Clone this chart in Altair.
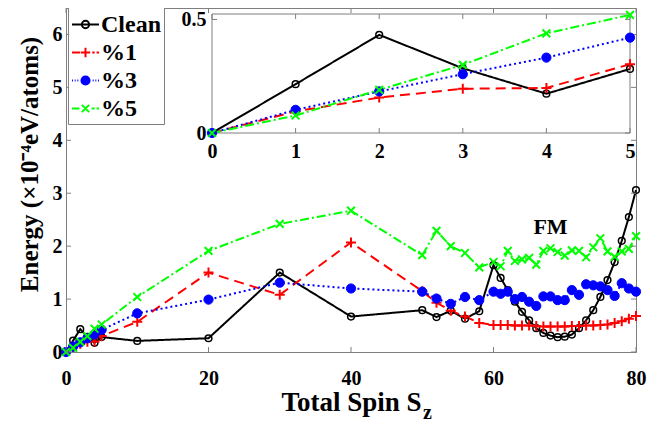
import altair as alt
import pandas as pd

SERIES = ["Clean", "%1", "%3", "%5"]
COLORS = ["#000000", "#ff0000", "#0000ff", "#00ff00"]

SZ = [0, 1, 2, 3, 4, 5, 10, 20, 30, 40, 50, 52, 54, 56, 58,
      60, 61, 62, 63, 64, 65, 66, 67, 68, 69, 70,
      71, 72, 73, 74, 75, 76, 77, 78, 79, 80]
CLEAN = [0, 0.215, 0.432, 0.285, 0.173, 0.282, 0.21, 0.26, 1.50, 0.67, 0.79, 0.66, 0.78, 0.63, 0.77,
         1.64, 1.40, 1.17, 0.95, 0.76, 0.60, 0.45, 0.36, 0.31, 0.28, 0.29,
         0.33, 0.45, 0.60, 0.79, 1.04, 1.36, 1.70, 2.10, 2.55, 3.06]
P1 = [0, 0.095, 0.156, 0.195, 0.198, 0.303, 0.57, 1.50, 1.08, 2.07, 1.15, 0.93, 0.78, 0.67, 0.55,
      0.51, 0.51, 0.51, 0.50, 0.50, 0.50, 0.49, 0.48, 0.48, 0.48, 0.48,
      0.49, 0.49, 0.50, 0.50, 0.51, 0.52, 0.55, 0.58, 0.63, 0.68]
P3 = [0, 0.102, 0.183, 0.259, 0.332, 0.42, 0.73, 0.99, 1.31, 1.20, 1.14, 1.01, 0.91, 1.04, 0.98,
      1.14, 1.10, 1.14, 1.00, 1.04, 0.95, 0.87, 1.05, 1.05, 0.98, 0.98,
      1.17, 1.08, 1.28, 1.26, 1.24, 1.17, 1.06, 1.30, 1.20, 1.14]
P5 = [0, 0.077, 0.19, 0.30, 0.439, 0.52, 1.04, 1.91, 2.42, 2.67, 1.83, 2.29, 2.00, 1.87, 1.60,
      1.70, 1.62, 1.91, 1.72, 1.75, 1.78, 1.65, 1.91, 1.96, 1.89, 1.82,
      1.92, 1.91, 1.79, 1.98, 2.15, 1.90, 1.80, 1.90, 1.95, 2.19]
VALUES = [CLEAN, P1, P3, P5]

X_TICKS = [0, 20, 40, 60, 80]
Y_TICKS = [0, 1, 2, 3, 4, 5, 6]
INSET_X_TICKS = [0, 1, 2, 3, 4, 5]
INSET_Y_TICKS = [0, 0.5]
ANNOT_TEXT = ["FM"]
ANNOT_X = [68]
ANNOT_Y = [2.36]

FONT = "Liberation Serif"
W, H = 570, 344
PAD_L = 58
GRAY = "#7f7f7f"

# inset placement (pixels inside the plot area)
IX0, IX1 = 146, W - 6
IY0, IY1 = 125, 6
INSET_YMAX = 0.524

STYLES = {
    "Clean": dict(dash=[1, 0], shape="circle", size=45, filled=False, sw=1.5),
    "%1": dict(dash=[10, 6], shape="M-1,0H1M0,-1V1", size=100, filled=False, sw=2),
    "%3": dict(dash=[2, 3], shape="circle", size=85, filled=True, sw=1),
    "%5": dict(dash=[9, 3, 2, 3], shape="M-1,-1L1,1M-1,1L1,-1", size=60, filled=False, sw=2),
}


def ring(r):
    return f"M-{r},0A{r},{r} 0 1,0 {r},0A{r},{r} 0 1,0 -{r},0"


LEGEND_SHAPES = [
    "M-1,0H1" + ring(0.27),
    "M-1,0H-0.4M-0.35,0H0.35M0,-0.35V0.35M0.5,0H0.68M0.82,0H1",
    "M-1,0H-0.93M-0.8,0H-0.73M-0.6,0H-0.53M0.53,0H0.6M0.73,0H0.8M0.93,0H1"
    + ring(0.3) + ring(0.2) + ring(0.1) + "M-0.3,0H0.3M0,-0.3V0.3",
    "M-1,0H-0.45M-0.27,-0.27L0.27,0.27M-0.27,0.27L0.27,-0.27M0.45,0H0.68M0.82,0H1",
]

rows = []
for s, vals in zip(SERIES, VALUES):
    for x, y in zip(SZ, vals):
        rows.append({"series": s, "sz": x, "e": y})
df = pd.DataFrame(rows)

LAB = dict(labelFont=FONT, labelFontWeight="bold", labelFontSize=20, labelColor="black",
           labelFlush=False)
TIT = dict(titleFont=FONT, titleFontWeight="bold", titleColor="black")

# ---------- main panel ----------
mx = alt.Scale(domain=[0, 80], nice=False, zero=False)
my = alt.Scale(domain=[0, 6.5], nice=False, zero=False)
ax_x = alt.Axis(values=X_TICKS, title="Total Spin S", tickSize=0, labelPadding=16,
                domain=False, grid=False, titlePadding=1, titleFontSize=27, **LAB, **TIT)
ax_y = alt.Axis(values=Y_TICKS, title="Energy (×10⁻⁴eV/atoms)", tickSize=0, labelPadding=4,
                domain=False, grid=False, titlePadding=10, titleFontSize=25, titleY=156,
                **LAB, **TIT)


def X(field):
    return alt.X(field, type="quantitative", scale=mx, axis=ax_x)


def Y(field):
    return alt.Y(field, type="quantitative", scale=my, axis=ax_y)


main_layers = []
legend_df = pd.DataFrame({"series": SERIES, "sz": [0] * 4, "e": [0] * 4})
leg = alt.Legend(title=None, orient="none", legendX=2, legendY=-1, direction="vertical",
                 symbolSize=729, symbolStrokeWidth=2, labelFont=FONT, labelFontWeight="bold",
                 labelFontSize=24, labelColor="black", padding=3, strokeColor=GRAY,
                 fillColor="white", rowPadding=1, labelOffset=1, labelLimit=200)
main_layers.append(
    alt.Chart(legend_df).mark_point(opacity=0, filled=False).encode(
        x=X("sz"), y=Y("e"),
        color=alt.Color("series:N", scale=alt.Scale(domain=SERIES, range=COLORS), legend=leg),
        shape=alt.Shape("series:N", scale=alt.Scale(domain=SERIES, range=LEGEND_SHAPES), legend=leg),
    )
)

for s, c in zip(SERIES, COLORS):
    st = STYLES[s]
    sub = df[df.series == s]
    main_layers.append(
        alt.Chart(sub).mark_line(color=c, strokeDash=st["dash"], strokeWidth=2).encode(
            x=X("sz"), y=Y("e"))
    )
for s, c in zip(SERIES, COLORS):
    st = STYLES[s]
    sub = df[df.series == s]
    if st["filled"]:
        m = alt.Chart(sub).mark_point(shape=st["shape"], size=st["size"], filled=True,
                                      fill=c, stroke=c, opacity=1, strokeWidth=st["sw"])
    else:
        m = alt.Chart(sub).mark_point(shape=st["shape"], size=st["size"], filled=False,
                                      stroke=c, opacity=1, strokeWidth=st["sw"])
    main_layers.append(m.encode(x=X("sz"), y=Y("e")))

xt = pd.DataFrame({"t": X_TICKS})
yt = pd.DataFrame({"t": Y_TICKS})
main_layers += [
    alt.Chart(xt).mark_rule(color=GRAY).encode(x=X("t"), y=alt.value(H), y2=alt.value(H - 5)),
    alt.Chart(xt).mark_rule(color=GRAY).encode(x=X("t"), y=alt.value(0), y2=alt.value(5)),
    alt.Chart(yt).mark_rule(color=GRAY).encode(y=Y("t"), x=alt.value(0), x2=alt.value(5)),
    alt.Chart(yt).mark_rule(color=GRAY).encode(y=Y("t"), x=alt.value(W - 5), x2=alt.value(W)),
]

annot = pd.DataFrame({"text": ANNOT_TEXT, "sz": ANNOT_X, "e": ANNOT_Y})
main_layers.append(
    alt.Chart(annot).mark_text(font=FONT, fontWeight="bold", fontSize=22, color="black").encode(
        x=X("sz"), y=Y("e"), text="text:N")
)
main_layers.append(
    alt.Chart(pd.DataFrame({"a": [0]})).mark_text(
        text="z", font=FONT, fontWeight="bold", fontSize=20, color="black", align="left",
        baseline="middle"
    ).encode(x=alt.value(357), y=alt.value(405))
)
main = alt.layer(*main_layers)

# ---------- inset ----------
ix = alt.Scale(domain=[0, 5], range=[IX0, IX1], nice=False, zero=False)
iy = alt.Scale(domain=[0, INSET_YMAX], range=[IY0, IY1], nice=False, zero=False)
iax_x = alt.Axis(values=INSET_X_TICKS, orient="bottom", offset=IY0 - H, tickSize=0,
                 labelPadding=8, domain=False, grid=False, title=None, format="d", **LAB)
iax_y = alt.Axis(values=INSET_Y_TICKS, orient="left", offset=-IX0, tickSize=0,
                 labelPadding=6, domain=False, grid=False, title=None, format="~g", **LAB)


def IX(field):
    return alt.X(field, type="quantitative", scale=ix, axis=iax_x)


def IY(field):
    return alt.Y(field, type="quantitative", scale=iy, axis=iax_y)


dfi = df[df.sz <= 5]
inset_layers = [
    alt.Chart(pd.DataFrame({"x0": [0], "x1": [5], "y0": [0], "y1": [INSET_YMAX]})).mark_rect(
        fill="white", stroke=GRAY, strokeWidth=1).encode(
        x=IX("x0"), x2="x1", y=IY("y0"), y2="y1")
]
ixt = pd.DataFrame({"t": INSET_X_TICKS})
iyt = pd.DataFrame({"t": INSET_Y_TICKS})
inset_layers += [
    alt.Chart(ixt).mark_rule(color=GRAY).encode(x=IX("t"), y=alt.value(IY0), y2=alt.value(IY0 - 5)),
    alt.Chart(ixt).mark_rule(color=GRAY).encode(x=IX("t"), y=alt.value(IY1), y2=alt.value(IY1 + 5)),
    alt.Chart(iyt).mark_rule(color=GRAY).encode(y=IY("t"), x=alt.value(IX0), x2=alt.value(IX0 + 5)),
    alt.Chart(iyt).mark_rule(color=GRAY).encode(y=IY("t"), x=alt.value(IX1 - 5), x2=alt.value(IX1)),
]
for s, c in zip(SERIES, COLORS):
    st = STYLES[s]
    sub = dfi[dfi.series == s]
    inset_layers.append(
        alt.Chart(sub).mark_line(color=c, strokeDash=st["dash"], strokeWidth=2).encode(
            x=IX("sz"), y=IY("e"))
    )
for s, c in zip(SERIES, COLORS):
    st = STYLES[s]
    sub = dfi[dfi.series == s]
    if st["filled"]:
        m = alt.Chart(sub).mark_point(shape=st["shape"], size=st["size"], filled=True,
                                      fill=c, stroke=c, opacity=1, strokeWidth=st["sw"])
    else:
        m = alt.Chart(sub).mark_point(shape=st["shape"], size=st["size"], filled=False,
                                      stroke=c, opacity=1, strokeWidth=st["sw"])
    inset_layers.append(m.encode(x=IX("sz"), y=IY("e")))
inset = alt.layer(*inset_layers)

chart = alt.layer(main, inset).resolve_scale(x="independent", y="independent").properties(
    width=W, height=H,
    background="white",
    autosize=alt.AutoSizeParams(type="none"),
    padding={"left": PAD_L, "top": 0, "right": 641 - PAD_L - W, "bottom": 76},
).configure_view(stroke=GRAY, strokeWidth=1).configure_axis(**LAB, **TIT)

chart.save("out.html", embed_options={"renderer": "svg", "actions": False})
